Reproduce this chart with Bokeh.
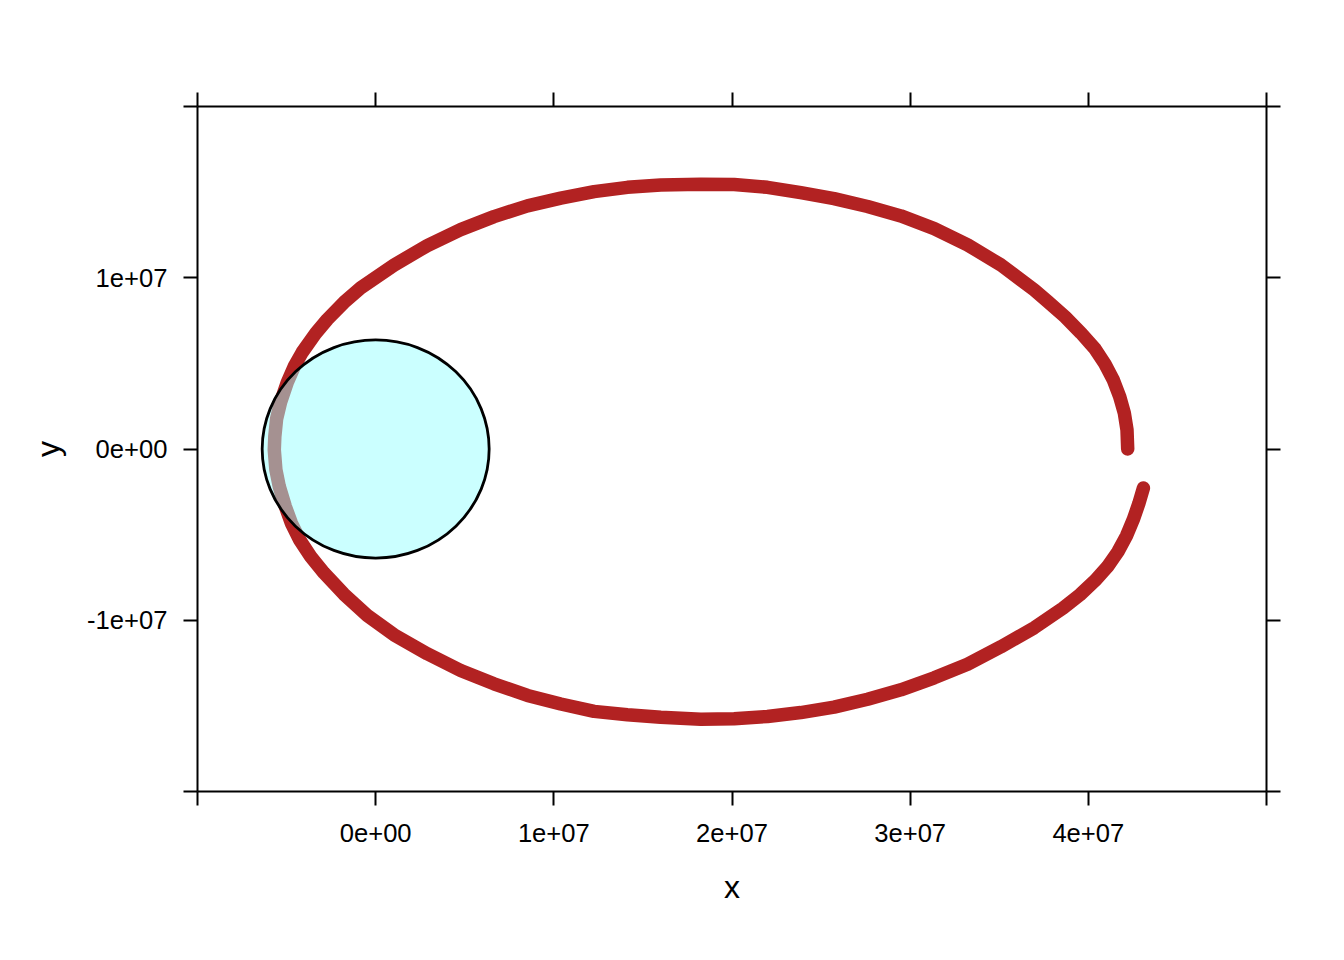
from bokeh.plotting import figure
from bokeh.models import Range1d, FixedTicker, LinearAxis
from bokeh.embed import file_html
from bokeh.resources import INLINE

# ---- data ----
# orbit track in metres: starts at the right near y=0, runs counter-clockwise,
# and ends a little outside its start point
orbit_x = [42.21e6, 42.17e6, 42.02e6, 41.76e6, 41.40e6, 40.93e6, 40.37e6, 39.58e6,
           38.69e6, 37.71e6, 36.96e6, 35.09e6, 33.22e6, 31.35e6, 29.48e6, 27.61e6,
           25.73e6, 23.86e6, 21.99e6, 20.12e6, 18.25e6, 16.00e6, 14.13e6, 12.26e6,
           10.39e6, 8.52e6, 6.64e6, 4.77e6, 2.90e6, 1.03e6, -0.84e6, -1.78e6,
           -2.71e6, -3.37e6, -4.12e6, -4.55e6, -4.96e6, -5.33e6, -5.56e6, -5.66e6,
           -5.69e6, -5.60e6, -5.41e6, -5.07e6, -4.73e6, -4.27e6, -3.65e6, -2.90e6,
           -1.78e6, -0.47e6, 1.03e6, 2.90e6, 4.77e6, 6.64e6, 8.52e6, 10.39e6,
           12.26e6, 14.13e6, 16.00e6, 18.25e6, 20.12e6, 21.99e6, 23.86e6, 25.73e6,
           27.61e6, 29.48e6, 31.35e6, 33.22e6, 35.09e6, 36.96e6, 38.57e6, 39.53e6,
           40.37e6, 41.07e6, 41.66e6, 42.14e6, 42.52e6, 42.83e6, 43.09e6]
orbit_y = [0.00e6, 1.12e6, 2.10e6, 3.06e6, 4.04e6, 4.97e6, 5.85e6, 6.78e6,
           7.72e6, 8.62e6, 9.29e6, 10.75e6, 11.92e6, 12.87e6, 13.61e6, 14.16e6,
           14.62e6, 14.97e6, 15.28e6, 15.44e6, 15.46e6, 15.41e6, 15.28e6, 15.03e6,
           14.65e6, 14.20e6, 13.57e6, 12.81e6, 11.88e6, 10.74e6, 9.41e6, 8.56e6,
           7.57e6, 6.75e6, 5.65e6, 4.86e6, 3.89e6, 2.76e6, 1.76e6, 0.73e6,
           -0.05e6, -1.21e6, -2.19e6, -3.36e6, -4.33e6, -5.30e6, -6.28e6, -7.24e6,
           -8.48e6, -9.72e6, -10.85e6, -11.96e6, -12.93e6, -13.71e6, -14.39e6, -14.89e6,
           -15.32e6, -15.52e6, -15.67e6, -15.78e6, -15.75e6, -15.62e6, -15.39e6, -15.07e6,
           -14.61e6, -14.06e6, -13.36e6, -12.57e6, -11.55e6, -10.44e6, -9.30e6, -8.51e6,
           -7.69e6, -6.88e6, -6.00e6, -5.07e6, -4.13e6, -3.20e6, -2.28e6]

# earth
earth_x = [0.0]
earth_y = [0.0]
earth_diameter = [2 * 6.37e6]

x_ticks = [-1e7, 0.0, 1e7, 2e7, 3e7, 4e7, 5e7]
x_tick_labels = ["", "0e+00", "1e+07", "2e+07", "3e+07", "4e+07", ""]
y_ticks = [-2e7, -1e7, 0.0, 1e7, 2e7]
y_tick_labels = ["", "-1e+07", "0e+00", "1e+07", ""]

FONT = "Liberation Sans"

p = figure(x_range=Range1d(x_ticks[0], x_ticks[-1]),
           y_range=Range1d(y_ticks[0], y_ticks[-1]),
           frame_width=1069, frame_height=685,
           min_border_left=197, min_border_top=106,
           min_border_right=70, min_border_bottom=160,
           x_axis_location=None, y_axis_location=None,
           output_backend="svg", toolbar_location=None,
           background_fill_color="white", border_fill_color="white",
           outline_line_color=None)
p.xgrid.visible = False
p.ygrid.visible = False


def make_axis(ticks, labels, show, title=None):
    ax = LinearAxis(ticker=FixedTicker(ticks=ticks))
    ax.axis_line_color = "black"
    ax.axis_line_width = 2
    ax.major_tick_line_color = "black"
    ax.major_tick_line_width = 2
    ax.major_tick_in = 0
    ax.major_tick_out = 14
    ax.minor_tick_line_color = None
    ax.major_label_text_font = FONT
    ax.major_label_text_font_size = "25.6px"
    ax.major_label_text_color = "black"
    ax.major_label_overrides = {t: (l if show else "") for t, l in zip(ticks, labels)}
    if title is not None:
        ax.axis_label = title
        ax.axis_label_text_font = FONT
        ax.axis_label_text_font_size = "32px"
        ax.axis_label_text_font_style = "normal"
        ax.axis_label_text_color = "black"
    return ax


xb = make_axis(x_ticks, x_tick_labels, True, "x")
xb.major_label_standoff = 18
xb.axis_label_standoff = 24
xt = make_axis(x_ticks, x_tick_labels, False)
yl = make_axis(y_ticks, y_tick_labels, True, "y")
yl.major_label_standoff = 16
yl.axis_label_standoff = 18
yr = make_axis(y_ticks, y_tick_labels, False)

p.add_layout(xb, "below")
p.add_layout(xt, "above")
p.add_layout(yl, "left")
p.add_layout(yr, "right")

p.line(orbit_x, orbit_y, line_color="#B22222", line_width=13.5,
       line_cap="round", line_join="round")

p.ellipse(x=earth_x, y=earth_y, width=earth_diameter, height=earth_diameter,
          fill_color="#97FFFF", fill_alpha=0.5, line_color="black", line_width=2.8)

open("out.html", "w").write(file_html(p, INLINE))
